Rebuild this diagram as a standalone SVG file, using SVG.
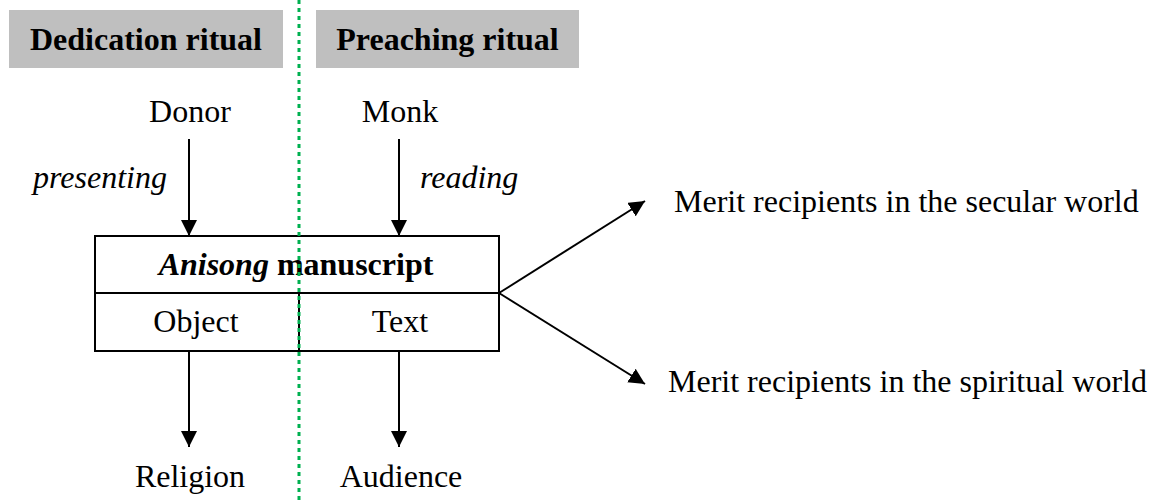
<svg xmlns="http://www.w3.org/2000/svg" width="1152" height="500" viewBox="0 0 1152 500">
<style>
text{font-family:"Liberation Serif","Times New Roman",serif;font-size:32px;fill:#000}
.hdr{font-weight:bold}
.it{font-style:italic}
.lnk{stroke:#000;stroke-width:2;fill:none}
.box{fill:#fff;stroke:#000;stroke-width:2}
</style>
<defs>
<marker id="ah" markerUnits="userSpaceOnUse" markerWidth="16" markerHeight="16" viewBox="0 0 16 16" refX="16" refY="8" orient="auto">
<path d="M0,0 L16,8 L0,16 Z" fill="#000"/>
</marker>
</defs>
<g id="hdr-dedication">
<rect x="9" y="10" width="274" height="58" fill="#bfbfbf"/>
<text class="hdr" x="146" y="50" text-anchor="middle">Dedication ritual</text>
</g>
<g id="hdr-preaching">
<rect x="316" y="10" width="263" height="58" fill="#bfbfbf"/>
<text class="hdr" x="447.5" y="50" text-anchor="middle">Preaching ritual</text>
</g>
<g id="donor"><text x="190" y="122" text-anchor="middle">Donor</text></g>
<g id="monk"><text x="400" y="122" text-anchor="middle">Monk</text></g>
<g id="manuscript">
<rect class="box" x="95" y="236" width="404" height="115"/>
<line class="lnk" x1="95" y1="293" x2="499" y2="293"/>
<line class="lnk" x1="299" y1="293" x2="299" y2="351"/>
<text x="296" y="275" text-anchor="middle" font-weight="bold"><tspan font-style="italic">Anisong</tspan> manuscript</text>
<text x="196" y="332" text-anchor="middle">Object</text>
<text x="400" y="332" text-anchor="middle">Text</text>
</g>
<g id="religion"><text x="190" y="487" text-anchor="middle">Religion</text></g>
<g id="audience"><text x="401" y="487" text-anchor="middle">Audience</text></g>
<g id="secular"><text x="674" y="212">Merit recipients in the secular world</text></g>
<g id="spiritual"><text x="668" y="392">Merit recipients in the spiritual world</text></g>
<g id="connectors">
<line class="lnk" x1="189" y1="139" x2="189" y2="236" marker-end="url(#ah)"/>
<line class="lnk" x1="399" y1="139" x2="399" y2="236" marker-end="url(#ah)"/>
<line class="lnk" x1="189" y1="351" x2="189" y2="447" marker-end="url(#ah)"/>
<line class="lnk" x1="399" y1="351" x2="399" y2="447" marker-end="url(#ah)"/>
<line class="lnk" x1="499" y1="293" x2="645" y2="201" marker-end="url(#ah)"/>
<line class="lnk" x1="499" y1="293" x2="645" y2="384" marker-end="url(#ah)"/>
<text class="it" x="167" y="188" text-anchor="end">presenting</text>
<text class="it" x="420" y="188">reading</text>
</g>
<line id="divider" x1="299" y1="0" x2="299" y2="500" stroke="#00b050" stroke-width="3" stroke-dasharray="4 4"/>
</svg>
